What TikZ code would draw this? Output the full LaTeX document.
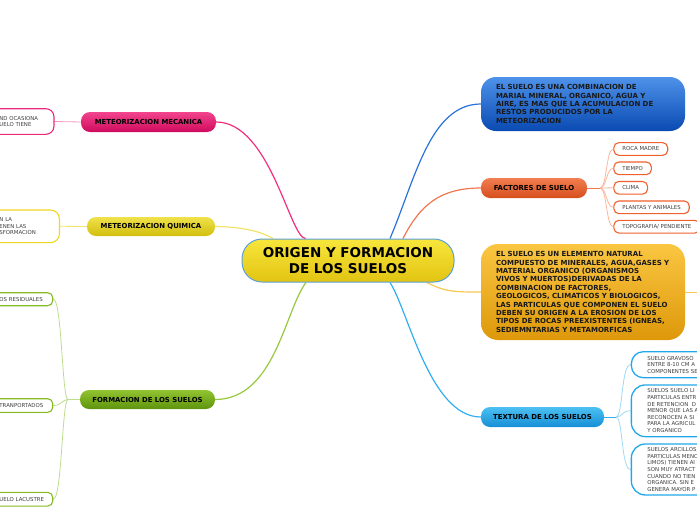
\documentclass[tikz,border=0pt]{standalone}
\usepackage{fontspec}
\setmainfont{DejaVu Sans}
\usetikzlibrary{calc,backgrounds}
\definecolor{cTop}{HTML}{F8E63C}
\definecolor{cBot}{HTML}{E2C412}
\definecolor{cBor}{HTML}{5AA0D8}
\definecolor{pkTop}{HTML}{F2458E}
\definecolor{pkBot}{HTML}{CF0A5C}
\definecolor{pkC}{HTML}{F0307F}
\definecolor{pkL}{HTML}{EC2A7A}
\definecolor{pkS}{HTML}{F59AC0}
\definecolor{yeTop}{HTML}{EFE24A}
\definecolor{yeBot}{HTML}{D2BE0E}
\definecolor{yeC}{HTML}{F2E36A}
\definecolor{yeL}{HTML}{EED820}
\definecolor{grTop}{HTML}{92C430}
\definecolor{grBot}{HTML}{5E940E}
\definecolor{grC}{HTML}{98C840}
\definecolor{grL}{HTML}{86BC22}
\definecolor{grS}{HTML}{BEDC90}
\definecolor{blTop}{HTML}{4E92EA}
\definecolor{blBot}{HTML}{0A4AB2}
\definecolor{blC}{HTML}{2A72DA}
\definecolor{orTop}{HTML}{F27E52}
\definecolor{orBot}{HTML}{D64E1C}
\definecolor{orC}{HTML}{F07850}
\definecolor{orL}{HTML}{F0602F}
\definecolor{orS}{HTML}{F8B8A0}
\definecolor{amTop}{HTML}{FAC642}
\definecolor{amBot}{HTML}{DE980A}
\definecolor{amC}{HTML}{F8C850}
\definecolor{cyTop}{HTML}{4CC0F2}
\definecolor{cyBot}{HTML}{168ED6}
\definecolor{cyC}{HTML}{30B0F0}
\definecolor{cyL}{HTML}{22A8EA}
\definecolor{cyS}{HTML}{A0D8F6}
\begin{document}
\begin{tikzpicture}[x=1pt,y=-1pt,
  branch/.style={rounded corners=9pt, inner sep=0pt, minimum height=20pt,
    font=\bfseries\fontsize{6.9}{8}\selectfont, text=black},
  bigbox/.style={rounded corners=15pt, inner xsep=15pt, inner ysep=0pt,
    text width=174pt, minimum height=#1, align=left,
    font=\bfseries\fontsize{7}{8.4}\selectfont, text=black!90},
  leaf/.style={draw=#1, line width=1.1pt, fill=white, rounded corners=6pt,
    inner ysep=0pt, font=\fontsize{5.4}{6.6}\selectfont,
    text=black!75, align=left},
  conn/.style={line width=1.2pt, draw=#1},
  sub/.style={line width=0.8pt, draw=#1}]
\useasboundingbox (0,0) rectangle (697,520);

% central
\node[draw=cBor, line width=1pt, top color=cTop, bottom color=cBot,
  rounded corners=20pt, minimum width=212pt, minimum height=43pt, inner sep=0pt,
  align=center, font=\bfseries\fontsize{13.5}{15.7}\selectfont] (c) at (348,260.5)
  {ORIGEN Y FORMACION\\DE LOS SUELOS};

% main branches
\node[branch, top color=pkTop, bottom color=pkBot, minimum width=135pt] (mec) at (148.5,122) {METEORIZACION MECANICA};
\node[branch, top color=yeTop, bottom color=yeBot, minimum width=128pt, minimum height=19pt] (qui) at (151,226.5) {METEORIZACION QUIMICA};
\node[branch, top color=grTop, bottom color=grBot, minimum width=135pt, minimum height=19pt] (form) at (147.5,399.5) {FORMACION DE LOS SUELOS};
\node[bigbox=54pt, top color=blTop, bottom color=blBot] (def) at (583,104)
  {EL SUELO ES UNA COMBINACION DE\\MARIAL MINERAL, ORGANICO, AGUA Y\\AIRE, ES MAS QUE LA ACUMULACION DE\\RESTOS PRODUCIDOS POR LA\\METEORIZACION};
\node[branch, top color=orTop, bottom color=orBot, minimum width=106pt] (fac) at (534,188) {FACTORES DE SUELO};
\node[bigbox=96pt, rounded corners=17pt, top color=amTop, bottom color=amBot] (ele) at (583,292)
  {EL SUELO ES UN ELEMENTO NATURAL\\COMPUESTO DE MINERALES, AGUA,GASES Y\\MATERIAL ORGANICO (ORGANISMOS\\VIVOS Y MUERTOS)DERIVADAS DE LA\\COMBINACION DE FACTORES,\\GEOLOGICOS, CLIMATICOS Y BIOLOGICOS,\\LAS PARTICULAS QUE COMPONEN EL SUELO\\DEBEN SU ORIGEN A LA EROSION DE LOS\\TIPOS DE ROCAS PREEXISTENTES (IGNEAS,\\SEDIEMNTARIAS Y METAMORFICAS};
\node[branch, top color=cyTop, bottom color=cyBot, minimum width=123pt] (tex) at (542.5,417) {TEXTURA DE LOS SUELOS};

% left leaves
\node[leaf=pkL, rounded corners=8pt, anchor=east, inner xsep=8pt, text width=46.5pt, minimum height=25.6pt] (mecL) at (54.5,121.5) {ND~OCASIONA\\UELO~TIENE};
\node[leaf=yeL, rounded corners=9pt, anchor=east, inner xsep=8pt, text width=52pt, minimum height=32.7pt] (quiL) at (60,226.3) {N~LA\\ENEN~LAS\\SFORMACION};
\node[leaf=grL, rounded corners=5pt, anchor=east, inner xsep=6pt, text width=47.3pt, minimum height=13pt] (g1) at (53.3,299.2) {OS~RESIDUALES};
\node[leaf=grL, rounded corners=5pt, anchor=east, inner xsep=6pt, text width=47.3pt, minimum height=13.6pt] (g2) at (53.3,405.5) {TRANPORTADOS};
\node[leaf=grL, rounded corners=5pt, anchor=east, inner xsep=6pt, text width=47.3pt, minimum height=13.7pt] (g3) at (53.3,499.2) {UELO~LACUSTRE};

% factores leaves
\node[leaf=orL, rounded corners=5pt, anchor=west, inner xsep=8.5pt, minimum height=12.7pt] (f1) at (613.3,149) {ROCA MADRE};
\node[leaf=orL, rounded corners=5pt, anchor=west, inner xsep=8.5pt, minimum height=12.7pt] (f2) at (613.3,168.3) {TIEMPO};
\node[leaf=orL, rounded corners=5pt, anchor=west, inner xsep=8.5pt, minimum height=12.7pt] (f3) at (613.3,187.8) {CLIMA};
\node[leaf=orL, rounded corners=5pt, anchor=west, inner xsep=8.5pt, minimum height=12.7pt] (f4) at (613.3,207.3) {PLANTAS Y ANIMALES};
\node[leaf=orL, rounded corners=5pt, anchor=west, inner xsep=8.5pt, minimum height=12.7pt] (f5) at (613.3,226.7) {TOPOGRAFIA/ PENDIENTE};

% textura leaves
\node[leaf=cyL, line width=1.3pt, rounded corners=12pt, anchor=west, inner xsep=16pt, text width=60pt, minimum height=26pt] (t1) at (630.7,364.7) {SUELO GRAVOSO\\ENTRE 8-10 CM A\\COMPONENTES SE};
\node[leaf=cyL, line width=1.3pt, rounded corners=14pt, anchor=west, inner xsep=16pt, text width=60pt, minimum height=51.7pt] (t2) at (630.7,410.8) {SUELOS SUELO LI\\PARTICULAS ENTR\\DE RETENCION\ \ D\\MENOR QUE LAS A\\RECONOCEN A SI\\PARA LA AGRICUL\\Y ORGANICO};
\node[leaf=cyL, line width=1.3pt, rounded corners=14pt, anchor=west, inner xsep=16pt, text width=60pt, minimum height=51pt] (t3) at (630.7,469.5) {SUELOS ARCILLOS\\PARTICULAS MENO\\LIMOS) TIENEN AI\\SON MUY ATRACT\\CUANDO NO TIEN\\ORGANICA. SIN E\\GENERA MAYOR P};

\coordinate (gj) at (68,399.5);
\coordinate (fj) at (600,188);
\coordinate (tj) at (616,417);
\coordinate (eleOut) at (697,292);

\begin{scope}[on background layer]
\draw[conn=pkC] (mec.east) .. controls (270,122) and (290,238) .. ($(c.north)+(-42.5,0)$);
\draw[conn=yeC] (qui.east) .. controls (245,227) and (262,232) .. ($(c.north)+(-75,0)$);
\draw[conn=grC] ($(c.south)+(-42,0)$) .. controls (285,310) and (275,399.5) .. (form.east);
\draw[conn=blC] ($(c.north)+(42,0)$) .. controls (415,180) and (430,104) .. (def.west);
\draw[conn=orC] ($(c.north)+(55,0)$) .. controls (420,205) and (440,188) .. (fac.west);
\draw[conn=amC] ($(c.south)+(79,0)$) .. controls (445,292) and (455,292) .. (ele.west);
\draw[conn=cyC] ($(c.south)+(42,0)$) .. controls (408,310) and (430,417) .. (tex.west);
\draw[sub=amC] (ele.east) -- (eleOut);
\draw[sub=pkS] (mecL.east) -- (mec.west);
\draw[sub=yeC] (quiL.east) -- (qui.west);
\draw[sub=grS] (form.west) -- (gj);
\draw[sub=grS] (gj) .. controls (62,399.5) and (62,299.2) .. (g1.east);
\draw[sub=grS] (gj) .. controls (62,399.5) and (62,405.5) .. (g2.east);
\draw[sub=grS] (gj) .. controls (62,399.5) and (62,499.2) .. (g3.east);
\draw[sub=orC] (fac.east) -- (fj);
\foreach \n in {f1,f2,f3,f4,f5}
  \draw[sub=orS] (fj) .. controls (607,188) and (606,0 |- \n.west) .. (\n.west);
\draw[sub=cyC] (tex.east) -- (tj);
\foreach \n in {t1,t2,t3}
  \draw[sub=cyS] (tj) .. controls (623,417) and (621,0 |- \n.west) .. (\n.west);
\end{scope}
\end{tikzpicture}
\end{document}
